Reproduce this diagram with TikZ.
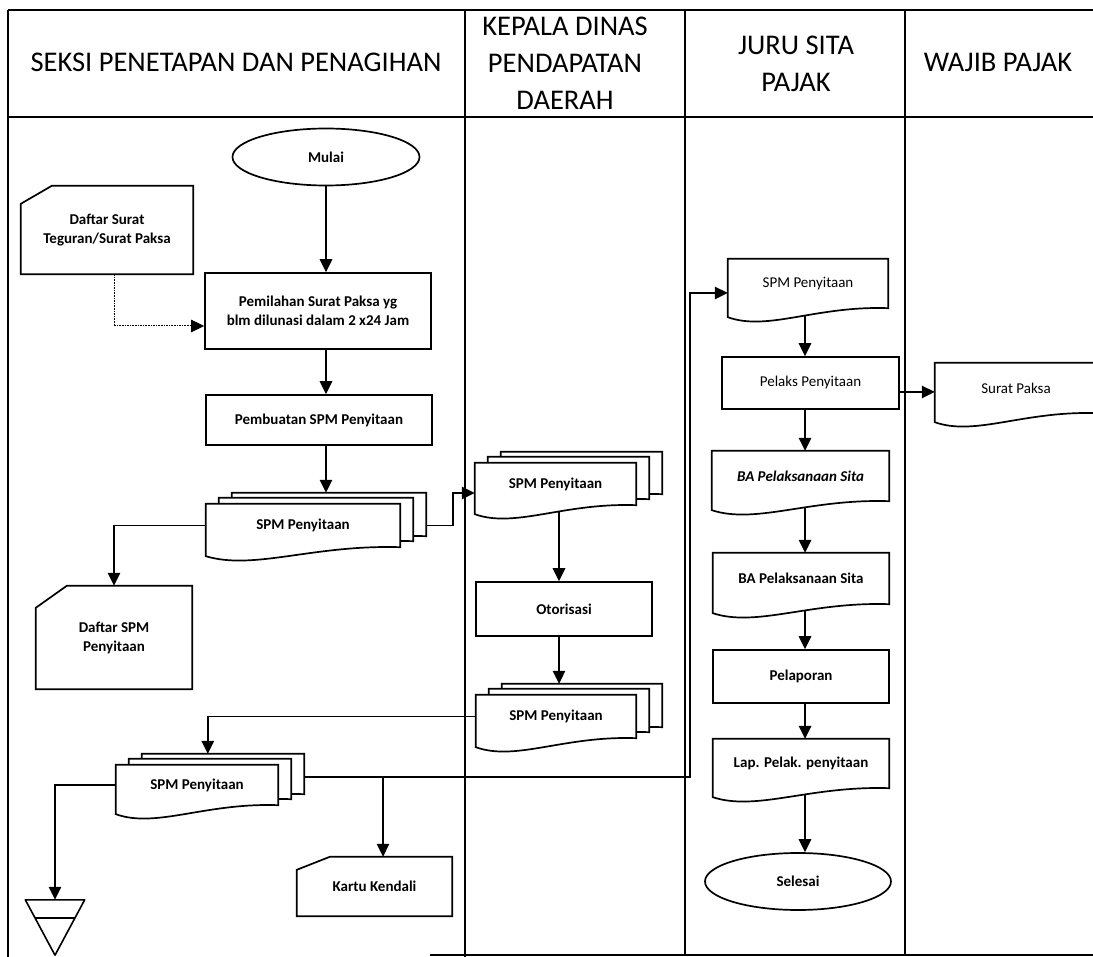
\documentclass[tikz,border=0pt]{standalone}
\usepackage{fontspec}
\setmainfont{Carlito}
\usetikzlibrary{shapes.geometric,arrows.meta,calc}
\pgfdeclarelayer{conn}
\pgfdeclarelayer{shape}
\pgfsetlayers{conn,shape,main}

\newcommand\headfont{\fontsize{28.5}{37}\selectfont}
\newcommand\flowfont{\fontsize{15}{19}\selectfont\bfseries}
\newcommand\flowfontlight{\fontsize{15}{19}\selectfont}

% document symbol: straight top and sides, wavy bottom edge
\newcommand\docpath[1]{%
  \begin{pgfonlayer}{shape}
  \draw[outline] (#1.north west) -- (#1.north east) -- (#1.south east)
    .. controls ($(#1.south west)!0.55!(#1.south east)+(0,-2.7)$)
           and ($(#1.south west)!0.25!(#1.south east)+(0,23.4)$)
    .. ($(#1.south west)+(0,9)$) -- cycle;
  \end{pgfonlayer}}

% punched card symbol: rectangle with the top left corner cut off
\newcommand\cardpath[3]{%
  \begin{pgfonlayer}{shape}
  \draw[outline] ($(#1.north west)+(#2,0)$) -- (#1.north east) -- (#1.south east)
    -- (#1.south west) -- ($(#1.north west)+(0,#3)$) -- cycle;
  \end{pgfonlayer}}

\begin{document}
\begin{tikzpicture}[x=1pt,y=-1pt,
  frame/.style={line width=1.3pt},
  outline/.style={draw, line width=1.7pt, fill=white},
  head/.style={align=center, font=\headfont, inner sep=0pt},
  proc/.style={draw, line width=1.7pt, inner sep=0pt, align=center, font=\flowfont},
  term/.style={ellipse, draw, line width=1.7pt, inner sep=0pt, font=\flowfont},
  docnode/.style={inner sep=0pt, align=center, font=\flowfont},
  flow/.style={line width=1.6pt, -{Triangle[length=13pt,width=12.5pt]}},
]
\useasboundingbox (0,0) rectangle (1093,957);

% swimlane grid
\draw[frame] (8,10) -- (1093,10);
\draw[frame] (8,117) -- (1093,117);
\draw[frame] (8,10) -- (8,957);
\draw[frame] (465,10) -- (465,957);
\draw[frame] (685,10) -- (685,955);
\draw[frame] (905,10) -- (905,955);
\draw[frame] (430,955) -- (1093,955);

% lane titles
\node[head] (h1) at (236,62) {SEKSI PENETAPAN DAN PENAGIHAN};
\node[head] (h2) at (565,63) {KEPALA DINAS\\PENDAPATAN\\DAERAH};
\node[head] (h3) at (796,64) {JURU SITA\\PAJAK};
\node[head] (h4) at (998,62) {WAJIB PAJAK};

% ---- Seksi Penetapan dan Penagihan
\node[term, minimum width=187, minimum height=57] (mulai) at (326,157) {Mulai};
\node[docnode, minimum width=172, minimum height=88] (daftarA) at (107,230)
  {Daftar Surat\\Teguran/Surat Paksa};
\cardpath{daftarA}{31}{18}
\node[proc, minimum width=226, minimum height=76] (pemilahan) at (318,311)
  {Pemilahan Surat Paksa yg\\blm dilunasi dalam 2 x24 Jam};
\node[proc, minimum width=226, minimum height=50] (pembuatan) at (319,420)
  {Pembuatan SPM Penyitaan};

\node[docnode, minimum width=194, minimum height=43] (spmAc) at (329,514.5) {};
\node[docnode, minimum width=194, minimum height=43] (spmAb) at (316,519.5) {};
\node[docnode, minimum width=194, minimum height=43] (spmA) at (303,525.5) {SPM Penyitaan};
\docpath{spmAc}\docpath{spmAb}\docpath{spmA}

\node[docnode, minimum width=156, minimum height=103] (daftarB) at (114,637.5)
  {Daftar SPM\\Penyitaan};
\cardpath{daftarB}{31}{22}

\node[docnode, minimum width=162, minimum height=40] (spmDc) at (223,774) {};
\node[docnode, minimum width=162, minimum height=40] (spmDb) at (210,779) {};
\node[docnode, minimum width=162, minimum height=40] (spmD) at (197,785) {SPM Penyitaan};
\docpath{spmDc}\docpath{spmDb}\docpath{spmD}

\node[docnode, minimum width=155, minimum height=59] (kartu) at (374.5,886.5) {Kartu Kendali};
\cardpath{kartu}{33}{13}

\node[minimum width=59, minimum height=55, inner sep=0pt] (arsip) at (55,927.5) {};
\draw[line width=1.6pt, line join=round] (arsip.north west) -- (arsip.north east) -- (arsip.south) -- cycle;
\draw[line width=1.6pt] ($(arsip.north west)!0.33!(arsip.south)$) -- ($(arsip.north east)!0.33!(arsip.south)$);

% ---- Kepala Dinas Pendapatan Daerah
\node[docnode, minimum width=161, minimum height=42] (spmBc) at (581.5,473) {};
\node[docnode, minimum width=161, minimum height=42] (spmBb) at (568.5,478) {};
\node[docnode, minimum width=161, minimum height=42] (spmB) at (555.5,484) {SPM Penyitaan};
\docpath{spmBc}\docpath{spmBb}\docpath{spmB}

\node[proc, minimum width=176, minimum height=54] (otorisasi) at (564,609) {Otorisasi};

\node[docnode, minimum width=160, minimum height=43] (spmCc) at (582,705.5) {};
\node[docnode, minimum width=160, minimum height=43] (spmCb) at (569,710.5) {};
\node[docnode, minimum width=160, minimum height=43] (spmC) at (556,716.5) {SPM Penyitaan};
\docpath{spmCc}\docpath{spmCb}\docpath{spmC}

% ---- Juru Sita Pajak
\node[docnode, font=\flowfontlight, minimum width=160, minimum height=49] (spmE) at (808,283.5) {SPM Penyitaan};
\docpath{spmE}
\node[proc, font=\flowfontlight, minimum width=177, minimum height=52] (pelaks) at (810.5,383) {Pelaks Penyitaan};
\node[docnode, font=\flowfont\itshape, minimum width=177, minimum height=50] (ba1) at (800.5,476) {BA Pelaksanaan Sita};
\docpath{ba1}
\node[docnode, minimum width=176, minimum height=51] (ba2) at (801,578.5) {BA Pelaksanaan Sita};
\docpath{ba2}
\node[proc, minimum width=176, minimum height=53] (pelaporan) at (801,676.5) {Pelaporan};
\node[docnode, minimum width=176, minimum height=49] (lap) at (801,763.5) {Lap. Pelak. penyitaan};
\docpath{lap}
\node[term, minimum width=186, minimum height=57] (selesai) at (798,881.5) {Selesai};

% ---- Wajib Pajak
\node[docnode, font=\flowfontlight, minimum width=162, minimum height=50] (suratpaksa) at (1016,388) {Surat Paksa};
\docpath{suratpaksa}

% connector columns
\coordinate (ax) at (453,0);
\coordinate (mx) at (559,0);
\coordinate (kx) at (383,0);
\coordinate (rx) at (690,0);
\coordinate (jx) at (805,0);
\coordinate (r1) at ($(spmD.east)+(0,-8)$);

\begin{pgfonlayer}{conn}
\draw[flow] (mulai.south) -- (mulai |- pemilahan.north);
\draw[flow, densely dotted, line width=1pt] ($(daftarA.south)+(7,0)$) |- ($(pemilahan.west)+(0,15)$);
\draw[flow] (pemilahan.south -| mulai) -- (pembuatan.north -| mulai);
\draw[flow] (pembuatan.south -| mulai) -- (spmAc.north -| mulai);
\draw[flow] (spmA.west) -| (daftarB.north);
\draw[flow] (spmA.east) -- (spmA.east -| ax) |- ($(spmB.west)+(0,9)$);
\draw[flow] (spmB.south -| mx) -- (otorisasi.north -| mx);
\draw[flow] (otorisasi.south -| mx) -- (spmCc.north -| mx);
\draw[flow] (spmC.west) -| ($(spmDc.north west)+(66,0)$);
\draw[flow] (spmD.west) -| (arsip.north);
\draw[flow] (r1) -- (r1 -| rx) |- ($(spmE.west)+(0,9.5)$);
\draw[flow] (r1 -| kx) -- (kartu.north -| kx);
\draw[flow] (spmE.south -| jx) -- (pelaks.north -| jx);
\draw[flow] ($(pelaks.east)+(0,9)$) -- ($(suratpaksa.west)+(0,4)$);
\draw[flow] (pelaks.south -| jx) -- (ba1.north -| jx);
\draw[flow] (ba1.south -| jx) -- (ba2.north -| jx);
\draw[flow] (ba2.south -| jx) -- (pelaporan.north -| jx);
\draw[flow] (pelaporan.south -| jx) -- (lap.north -| jx);
\draw[flow] (lap.south -| jx) -- (selesai.north -| jx);
\end{pgfonlayer}
\end{tikzpicture}
\end{document}
